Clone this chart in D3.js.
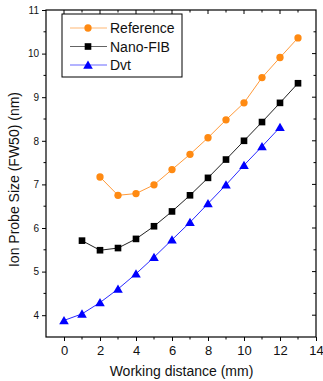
<!DOCTYPE html>
<html>
<head>
<meta charset="utf-8">
<script src="https://cdn.jsdelivr.net/npm/d3@7"></script>
<style>
  body { margin: 0; background: #fff; }
  svg { font-family: Arial, "Liberation Sans", sans-serif; }
</style>
</head>
<body>
<div id="chart"></div>
<script>
// data
const refX = [2, 3, 4, 5, 6, 7, 8, 9, 10, 11, 12, 13];
const refY = [7.17, 6.75, 6.79, 6.99, 7.34, 7.69, 8.07, 8.48, 8.87, 9.45, 9.91, 10.36];
const fibX = [1, 2, 3, 4, 5, 6, 7, 8, 9, 10, 11, 12, 13];
const fibY = [5.71, 5.49, 5.54, 5.75, 6.04, 6.38, 6.75, 7.15, 7.57, 8.0, 8.43, 8.87, 9.32];
const dvtX = [0, 1, 2, 3, 4, 5, 6, 7, 8, 9, 10, 11, 12];
const dvtY = [3.88, 4.03, 4.29, 4.60, 4.95, 5.33, 5.73, 6.13, 6.56, 6.99, 7.44, 7.87, 8.31];
const xTicks = [0, 2, 4, 6, 8, 10, 12, 14];
const yTicks = [4, 5, 6, 7, 8, 9, 10, 11];

const series = [
  { name: 'Reference', xs: refX, ys: refY, color: '#ff8a12', line: '#ff9a3a', shape: 'circle' },
  { name: 'Nano-FIB', xs: fibX, ys: fibY, color: '#000000', line: '#222222', shape: 'square' },
  { name: 'Dvt', xs: dvtX, ys: dvtY, color: '#0000ff', line: '#2a2aff', shape: 'triangle' }
];

const W = 323, H = 381;
const mLeft = 46, mRight = 316, mTop = 10, mBottom = 337;

const svg = d3.select('#chart').append('svg').attr('width', W).attr('height', H);

const x = d3.scaleLinear().domain([-1, 14]).range([mLeft, mRight]);
const y = d3.scaleLinear().domain([3.5, 11]).range([mBottom, mTop]);

// frame
svg.append('rect')
  .attr('x', mLeft).attr('y', mTop)
  .attr('width', mRight - mLeft).attr('height', mBottom - mTop)
  .attr('fill', 'none').attr('stroke', '#000').attr('stroke-width', 1.2);

const xMinor = d3.range(-1, 14.01, 1);
const yMinor = d3.range(3.5, 11.01, 0.5);

// bottom axis: ticks outward
const gx = svg.append('g').attr('transform', `translate(0,${mBottom})`)
  .call(d3.axisBottom(x).tickValues(xTicks).tickSize(4).tickPadding(5).tickFormat(d3.format('d')));
gx.select('.domain').remove();
gx.selectAll('text').attr('font-size', 13).attr('fill', '#111');
svg.append('g').attr('transform', `translate(0,${mBottom})`)
  .selectAll('line').data(xMinor.filter(v => !xTicks.includes(v) && v > -1)).join('line')
  .attr('x1', d => x(d)).attr('x2', d => x(d)).attr('y1', 0).attr('y2', 2.5).attr('stroke', '#000');

// left axis: ticks outward
const gy = svg.append('g').attr('transform', `translate(${mLeft},0)`)
  .call(d3.axisLeft(y).tickValues(yTicks).tickSize(4).tickPadding(3).tickFormat(d3.format('d')));
gy.select('.domain').remove();
gy.selectAll('text').attr('font-size', 10).attr('fill', '#111');
svg.append('g').attr('transform', `translate(${mLeft},0)`)
  .selectAll('line').data(yMinor.filter(v => !yTicks.includes(v) && v > 3.5)).join('line')
  .attr('y1', d => y(d)).attr('y2', d => y(d)).attr('x1', 0).attr('x2', -2.5).attr('stroke', '#000');

// top axis: ticks inward
svg.append('g').selectAll('line').data(xMinor.filter(v => v > -1 && v < 14)).join('line')
  .attr('x1', d => x(d)).attr('x2', d => x(d))
  .attr('y1', mTop).attr('y2', d => mTop + (xTicks.includes(d) ? 4 : 2.5)).attr('stroke', '#000');

// right axis: ticks inward
svg.append('g').selectAll('line').data(yMinor.filter(v => v > 3.5 && v < 11)).join('line')
  .attr('y1', d => y(d)).attr('y2', d => y(d))
  .attr('x1', mRight).attr('x2', d => mRight - (yTicks.includes(d) ? 4 : 2.5)).attr('stroke', '#000');

// axis titles
svg.append('text')
  .attr('x', 181.5).attr('y', 376)
  .attr('text-anchor', 'middle').attr('font-size', 14).attr('fill', '#111')
  .text('Working distance (mm)');
svg.append('text')
  .attr('transform', 'translate(19,179.5) rotate(-90)')
  .attr('text-anchor', 'middle').attr('font-size', 14).attr('fill', '#111')
  .text('Ion Probe Size (FW50) (nm)');

const symbolFor = s => s === 'circle' ? d3.symbolCircle : s === 'square' ? d3.symbolSquare : d3.symbolTriangle;
const sizeFor = s => s === 'circle' ? 42 : s === 'square' ? 44 : 40;

const line = d3.line().x(d => x(d[0])).y(d => y(d[1]));

series.forEach(s => {
  const pts = s.xs.map((v, i) => [v, s.ys[i]]);
  svg.append('path').datum(pts).attr('d', line)
    .attr('fill', 'none').attr('stroke', s.line).attr('stroke-width', 1);
  svg.append('g').selectAll('path').data(pts).join('path')
    .attr('transform', d => `translate(${x(d[0])},${y(d[1]) + (s.shape === 'triangle' ? 1 : 0)})`)
    .attr('d', d3.symbol().type(symbolFor(s.shape)).size(sizeFor(s.shape)))
    .attr('fill', s.color);
});

// legend
const lg = svg.append('g');
lg.append('rect').attr('x', 62).attr('y', 14).attr('width', 120).attr('height', 63)
  .attr('fill', '#fff').attr('stroke', '#000').attr('stroke-width', 1);
series.forEach((s, i) => {
  const ly = 28 + i * 18.5;
  lg.append('line').attr('x1', 70).attr('x2', 107).attr('y1', ly).attr('y2', ly)
    .attr('stroke', s.line).attr('stroke-width', 1.2).attr('stroke-opacity', 0.7);
  lg.append('path')
    .attr('transform', `translate(88,${ly + (s.shape === 'triangle' ? 1 : 0)})`)
    .attr('d', d3.symbol().type(symbolFor(s.shape)).size(sizeFor(s.shape)))
    .attr('fill', s.color);
  lg.append('text').attr('x', 110).attr('y', ly + 5)
    .attr('font-size', 14).attr('fill', '#111').text(s.name);
});
</script>
</body>
</html>
